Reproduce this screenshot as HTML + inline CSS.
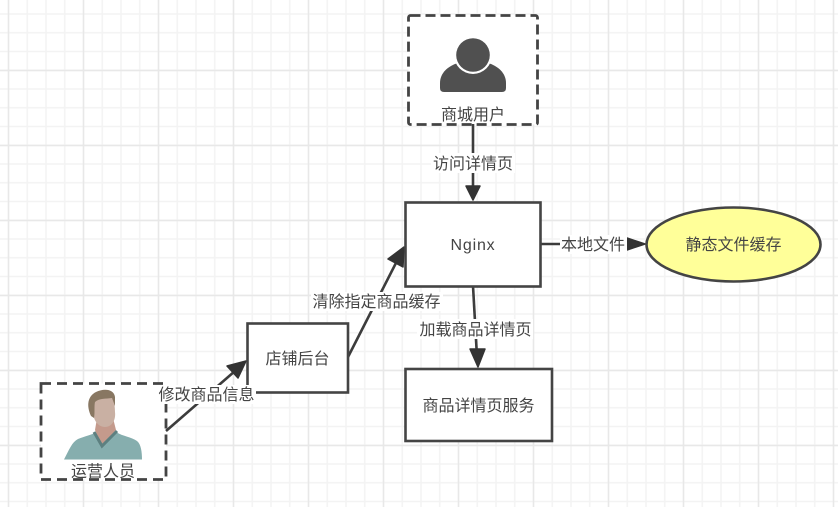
<!DOCTYPE html>
<html><head><meta charset="utf-8">
<style>
html,body{margin:0;padding:0;background:#fff;width:838px;height:507px;overflow:hidden}
svg{display:block}
text{font-family:"Liberation Sans","Noto Sans CJK SC",sans-serif;font-size:16px;fill:#444;text-anchor:middle}
</style></head><body>
<svg width="838" height="507" viewBox="0 0 838 507" xmlns="http://www.w3.org/2000/svg">
<defs>
<pattern id="minor" x="7.500" y="13" width="18.750" height="18.750" patternUnits="userSpaceOnUse">
<path d="M1 0V18.750M0 1H18.750" stroke="#f3f3f3" stroke-width="1.500" fill="none"/>
</pattern>
<pattern id="major" x="7.500" y="69.500" width="75" height="75" patternUnits="userSpaceOnUse">
<path d="M1 0V75M0 1H75" stroke="#e8e8e8" stroke-width="1.500" fill="none"/>
</pattern>
</defs>
<rect width="838" height="507" fill="#fff"/>
<rect width="838" height="507" fill="url(#minor)"/>
<rect width="838" height="507" fill="url(#major)"/>

<!-- user -->
<rect x="408.500" y="15.500" width="129" height="109" rx="2" fill="#fff" stroke="#444" stroke-width="2.800" stroke-dasharray="10 5"/>
<path d="M440 88V83C440 73 448 66 458 63L488 63C498 66 506 73 506 83V88Q506 92 502 92H444Q440 92 440 88Z" fill="#505050"/>
<circle cx="473" cy="55" r="19" fill="#fff"/>
<circle cx="473" cy="55" r="16.800" fill="#505050"/>
<text x="473" y="120">商城用户</text>

<!-- operator -->
<rect x="41" y="383.500" width="125" height="96" fill="#fff" stroke="#444" stroke-width="2.800" stroke-dasharray="10 6"/>
<path d="M64 459.500C69 450 72 442 78 439C85 436 92 435 96 432L116 432C122 436 131 437 137 441C141 444 142 452 142 459.500Z" fill="#86aeae"/>
<path d="M95 430L102 447L116 430L113 418H97Z" fill="#c49a8c"/>
<path d="M94 432L102 446L117 431" fill="none" stroke="#5d8080" stroke-width="3"/>
<path d="M93 411C91 401 95 395 106 395C113 395 115 402 115 412C116 420 112 427 105 427C98 427 93 420 93 411Z" fill="#c9b0a3"/>
<path d="M91 416C86 405 88 396 96 392C104 388 114 389 115 397L115 406L112 398C106 399 99 398 95 402C94 406 95 413 94 418Z" fill="#887762"/>
<text x="103" y="476.500">运营人员</text>

<!-- connectors -->
<g stroke="#3c3c3c" stroke-width="2.600" fill="none">
<path d="M473 124V190"/>
<path d="M541 244H640"/>
<path d="M473 286L477 357"/>
<path d="M166 431L235 371"/>
<path d="M348 357L398 259"/>
</g>
<g fill="#333" stroke="#333" stroke-width="1.500" stroke-linejoin="round">
<path d="M473 200L466 186L480 186Z"/>
<path d="M645 244L627 238V250Z"/>
<path d="M478 367L470 349L485 349Z"/>
<path d="M246 361L238 378L227 366Z"/>
<path d="M404 247L403 267L388 259Z"/>
</g>

<!-- boxes -->
<rect x="405.500" y="202.500" width="135" height="84" fill="#fff" stroke="#444" stroke-width="2.600"/>
<text x="473" y="250" letter-spacing=".8">Nginx</text>
<rect x="247.500" y="323.500" width="100.500" height="69" fill="#fff" stroke="#444" stroke-width="2.600"/>
<text x="297.500" y="364">店铺后台</text>
<rect x="405.500" y="369" width="146.500" height="72" fill="#fff" stroke="#444" stroke-width="2.600"/>
<text x="478.500" y="411">商品详情页服务</text>
<ellipse cx="733.500" cy="244.500" rx="87" ry="37" fill="#ffff99" stroke="#444" stroke-width="2.600"/>
<text x="733.500" y="250">静态文件缓存</text>

<!-- edge labels -->
<g fill="#fff">
<rect x="431" y="153" width="84" height="20"/>
<rect x="560" y="235" width="67" height="19"/>
<rect x="417" y="319" width="116" height="20"/>
<rect x="311" y="292" width="132" height="19"/>
<rect x="157" y="385" width="99" height="19"/>
</g>
<text x="473" y="169">访问详情页</text>
<text x="593" y="250">本地文件</text>
<text x="475.500" y="335">加载商品详情页</text>
<text x="376.500" y="307">清除指定商品缓存</text>
<text x="206.500" y="400">修改商品信息</text>
</svg>
</body></html>
